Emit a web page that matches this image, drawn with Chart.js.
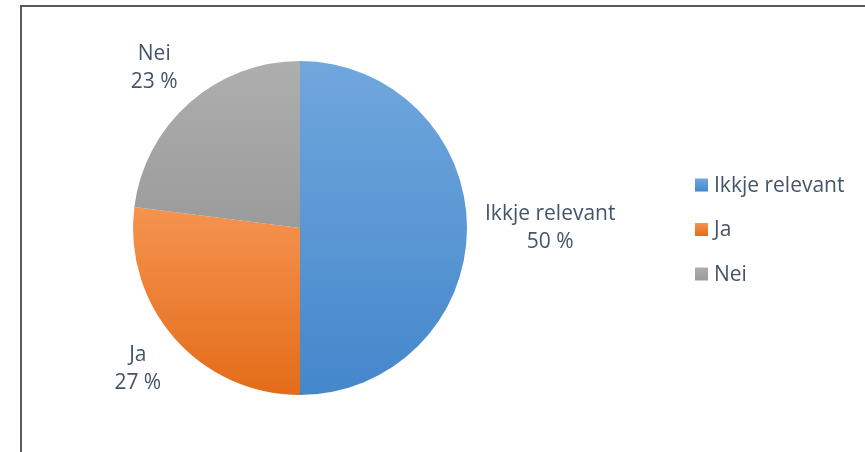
<!DOCTYPE html>
<html>
<head>
<meta charset="utf-8">
<script src="https://cdn.jsdelivr.net/npm/chart.js@4/dist/chart.umd.min.js"></script>
<style>
  html, body { margin: 0; padding: 0; background: #fff; }
  #wrap { position: relative; width: 865px; height: 452px; overflow: hidden; }
  #frame {
    position: absolute; left: 20px; top: 5px; right: -4px; bottom: -4px;
    border-left: 2px solid #5a5a5a; border-top: 2px solid #5a5a5a;
  }
  canvas { position: absolute; left: 0; top: 0; }
</style>
</head>
<body>
<div id="wrap">
  <div id="frame"></div>
  <canvas id="pie" width="865" height="452"></canvas>
</div>
<script>
// Data
const labels = ['Ikkje relevant', 'Ja', 'Nei'];
const shares = [50, 27, 23];
// light (top) and dark (bottom) end of each slice's gradient
const lightColors = ['#70a7dd', '#f59350', '#aeaeae'];
const darkColors = ['#4487cb', '#e36c18', '#9b9b9b'];

const FONT = '"Open Sans", "Noto Sans", sans-serif';
const TEXT_COLOR = '#44546a';

/**
 * Vertical extent of a pie sector (centre + arc)
 */
function sectorYRange(cy, r, a0, a1) {
  let yMin = Math.min(cy, cy + r * Math.sin(a0), cy + r * Math.sin(a1));
  let yMax = Math.max(cy, cy + r * Math.sin(a0), cy + r * Math.sin(a1));
  const twoPi = Math.PI * 2;
  const inside = (a) => {
    let t = a;
    while (t < a0) t += twoPi;
    while (t > a0 + twoPi) t -= twoPi;
    return t <= a1;
  };
  if (inside(-Math.PI / 2)) yMin = cy - r;
  if (inside(Math.PI / 2)) yMax = cy + r;
  return [yMin, yMax];
}

function sliceGradient(context) {
  const chart = context.chart;
  const i = context.dataIndex;
  const area = chart.chartArea;
  if (!area || i === undefined) return darkColors[i] || '#999';
  const cx = (area.left + area.right) / 2;
  const cy = (area.top + area.bottom) / 2;
  const r = Math.min(area.right - area.left, area.bottom - area.top) / 2;
  const total = shares.reduce((s, v) => s + v, 0);
  const before = shares.slice(0, i).reduce((s, v) => s + v, 0);
  const a0 = -Math.PI / 2 + (before / total) * Math.PI * 2;
  const a1 = a0 + (shares[i] / total) * Math.PI * 2;
  const [y0, y1] = sectorYRange(cy, r, a0, a1);
  const g = chart.ctx.createLinearGradient(0, y0, 0, y1);
  g.addColorStop(0, lightColors[i]);
  g.addColorStop(1, darkColors[i]);
  return g;
}

/**
 * Outside-end data labels and the right-hand legend
 */
const labelPlugin = {
  id: 'outsideLabels',
  afterDraw(chart) {
    const ctx = chart.ctx;
    const meta = chart.getDatasetMeta(0);
    const total = shares.reduce((s, v) => s + v, 0);
    const fontSize = 21;
    const lineH = 28;

    ctx.save();
    ctx.font = `${fontSize}px ${FONT}`;
    ctx.fillStyle = TEXT_COLOR;
    ctx.textAlign = 'center';
    ctx.textBaseline = 'middle';

    meta.data.forEach((arc, i) => {
      const mid = (arc.startAngle + arc.endAngle) / 2;
      const dx = Math.cos(mid);
      const dy = Math.sin(mid);
      const pct = Math.round((shares[i] / total) * 100) + ' %';
      const w = Math.max(ctx.measureText(labels[i]).width, ctx.measureText(pct).width);
      const h = lineH * 2;
      const px = arc.x + (arc.outerRadius + 18) * dx;
      const py = arc.y + (arc.outerRadius + 18) * dy;
      const bx = px + (Math.abs(dx) < 0.05 ? 0 : Math.sign(dx)) * w / 2;
      const by = py + dy * h / 2;
      ctx.fillText(labels[i], bx, by - lineH / 2);
      ctx.fillText(pct, bx, by + lineH / 2);
    });

    // legend
    const lx = 695;
    const rowY = [185, 229.5, 274];
    const box = 13;
    ctx.textAlign = 'left';
    labels.forEach((label, i) => {
      const g = ctx.createLinearGradient(0, rowY[i] - box / 2, 0, rowY[i] + box / 2);
      g.addColorStop(0, lightColors[i]);
      g.addColorStop(1, darkColors[i]);
      ctx.fillStyle = g;
      ctx.fillRect(lx, rowY[i] - box / 2, box, box);
      ctx.fillStyle = TEXT_COLOR;
      ctx.fillText(label, lx + 19, rowY[i] + 1);
    });
    ctx.restore();
  }
};

new Chart(document.getElementById('pie'), {
  type: 'pie',
  data: {
    labels: labels,
    datasets: [{
      data: shares,
      backgroundColor: sliceGradient,
      borderWidth: 0
    }]
  },
  options: {
    responsive: false,
    animation: false,
    layout: {
      padding: { left: 133, right: 398, top: 61, bottom: 57 }
    },
    plugins: {
      legend: { display: false },
      tooltip: { enabled: false }
    }
  },
  plugins: [labelPlugin]
});
</script>
</body>
</html>
